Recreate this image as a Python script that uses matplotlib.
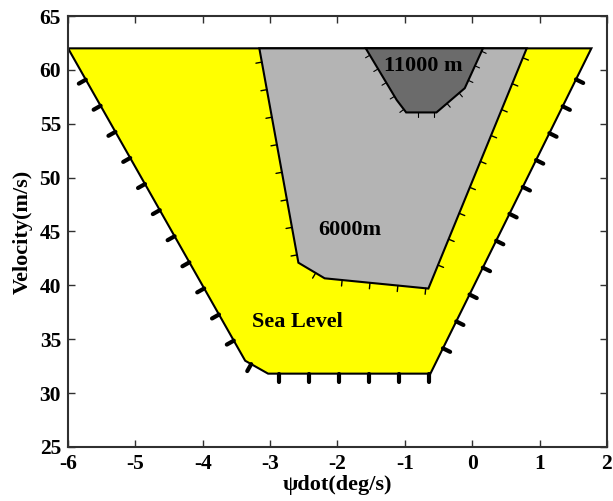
import matplotlib
matplotlib.use('Agg')
import matplotlib.pyplot as plt
import numpy as np

# flight envelope boundaries (psi-dot in deg/s, velocity in m/s)
sea_x = [-6.0, -3.37, -3.03, -0.62, 1.77]
sea_y = [62.0, 33.0, 31.8, 31.8, 62.0]

mid_x = [-3.16, -2.58, -2.19, -0.65, 0.81]
mid_y = [62.0, 42.1, 40.65, 39.7, 62.0]

high_x = [-1.58, -1.12, -0.98, -0.53, -0.11, 0.16]
high_y = [62.0, 57.2, 56.05, 56.05, 58.3, 62.0]

xticks = [-6, -5, -4, -3, -2, -1, 0, 1, 2]
yticks = [25, 30, 35, 40, 45, 50, 55, 60, 65]


def hatch(ax, xs, ys, step, length, lw, offset=0.0, trim=0.0):
  # short ticks along the open boundary, pointing away from the region
  T = ax.transData
  pts = T.transform(np.column_stack([xs, ys]))
  cen = pts.mean(axis=0)
  segs = []
  carry = offset
  for p0, p1 in zip(pts[:-1], pts[1:]):
    d = p1 - p0
    L = np.hypot(*d)
    if L == 0:
      continue
    u = d / L
    n = np.array([-u[1], u[0]])
    mid = (p0 + p1) / 2
    if np.dot(n, mid - cen) < 0:
      n = -n
    s = carry
    while s <= L:
      p = p0 + u * s
      if np.hypot(*(p - pts[-1])) > trim:
        segs.append((p, p + n * length))
      s += step
    carry = s - L
  inv = T.inverted()
  for a, b in segs:
    q = inv.transform(np.array([a, b]))
    ax.plot(q[:, 0], q[:, 1], color='black', lw=lw,
            solid_capstyle='round', zorder=4, clip_on=False)


def main():
  plt.rcParams['font.family'] = ['Liberation Serif', 'DejaVu Serif']
  plt.rcParams['font.weight'] = 'bold'
  plt.rcParams['axes.unicode_minus'] = False

  fig = plt.figure(figsize=(6.13, 5.01), dpi=100)
  ax = fig.add_axes([0.111, 0.108, 0.879, 0.860])
  ax.set_xlim(-6, 2)
  ax.set_ylim(25, 65)

  ax.fill(sea_x, sea_y, facecolor='#ffff00', edgecolor='black', lw=1.5, zorder=2)
  ax.fill(mid_x, mid_y, facecolor='#b4b4b4', edgecolor='black', lw=1.5, zorder=3)
  ax.fill(high_x, high_y, facecolor='#6b6b6b', edgecolor='black', lw=1.5, zorder=3)

  hatch(ax, sea_x, sea_y, 30, 8, 3.0, offset=36, trim=20)
  hatch(ax, mid_x, mid_y, 28, 6, 1.0, offset=14)
  hatch(ax, high_x, high_y, 16, 5, 0.8, offset=8)

  ax.text(-0.73, 60.4, '11000 m', fontsize=16, fontweight='bold',
          ha='center', va='center', zorder=5)
  ax.text(-1.82, 45.1, '6000m', fontsize=16, fontweight='bold',
          ha='center', va='center', zorder=5)
  ax.text(-2.6, 36.6, 'Sea Level', fontsize=16, fontweight='bold',
          ha='center', va='center', zorder=5)

  ax.set_xticks(xticks)
  ax.set_yticks(yticks)
  ax.tick_params(direction='in', top=True, right=True, length=5,
                 width=1, labelsize=15.5, colors='#303030', labelcolor='black')
  ax.tick_params(axis='x', pad=5)
  ax.tick_params(axis='y', pad=5)
  for sp in ax.spines.values():
    sp.set_linewidth(1.5)
    sp.set_color('#303030')
  ax.set_xlabel('ψdot(deg/s)', fontsize=16, fontweight='bold', labelpad=1)
  ax.set_ylabel('Velocity(m/s)', fontsize=16, fontweight='bold', labelpad=5)

  plt.savefig('out.png', dpi=100)


if __name__ == "__main__":
  main()
